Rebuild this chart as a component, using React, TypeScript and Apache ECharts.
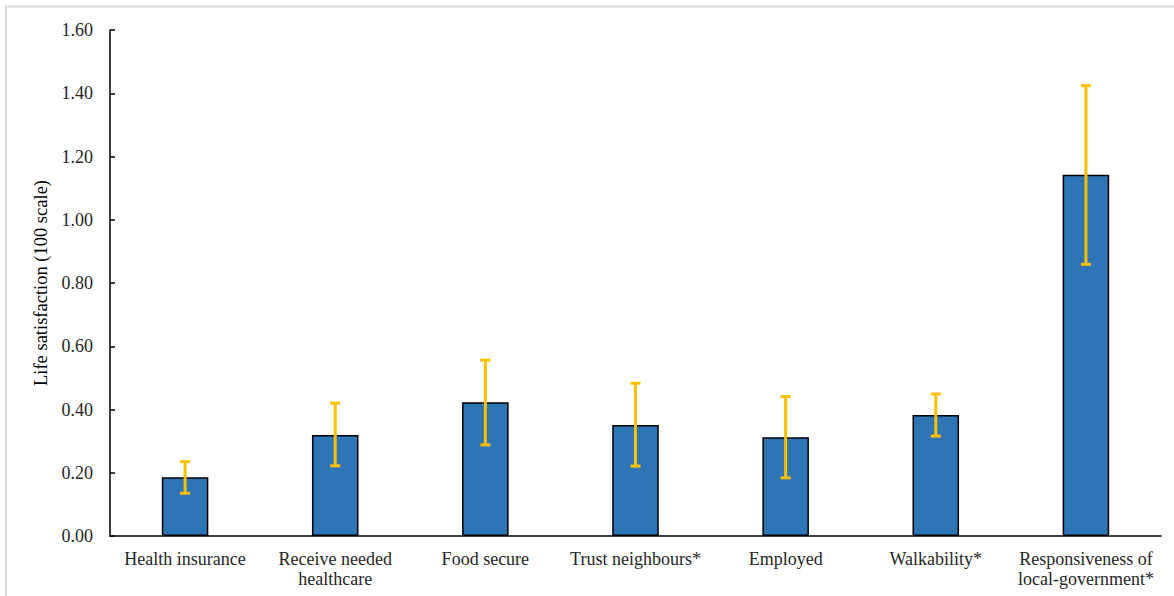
import React, { useEffect, useRef } from "react";
import * as echarts from "echarts";

const categories = [
  "Health insurance",
  "Receive needed\nhealthcare",
  "Food secure",
  "Trust neighbours*",
  "Employed",
  "Walkability*",
  "Responsiveness of\nlocal-government*",
];
const values = [0.186, 0.319, 0.423, 0.351, 0.312, 0.383, 1.142];
const errLow = [0.135, 0.222, 0.288, 0.221, 0.184, 0.316, 0.859];
const errHigh = [0.235, 0.42, 0.556, 0.483, 0.441, 0.449, 1.424];

const yMin = 0;
const yMax = 1.6;
const yStep = 0.2;

export default function App() {
  const ref = useRef<HTMLDivElement>(null);
  useEffect(() => {
    document.body.style.margin = "0";
    const chart = echarts.init(ref.current!, null, { renderer: "svg" });
    const font = "'Liberation Serif', 'Times New Roman', serif";
    chart.setOption({
      animation: false,
      backgroundColor: "#ffffff",
      textStyle: { fontFamily: font },
      graphic: [
        {
          type: "rect",
          shape: { x: 6, y: 6.5, width: 1200, height: 620 },
          style: { fill: "none", stroke: "#d9d9d9", lineWidth: 2 },
          silent: true,
          z: -10,
        },
      ],
      grid: { left: 110, right: 13, top: 30, bottom: 60 },
      xAxis: {
        type: "category",
        data: categories,
        axisLine: { lineStyle: { color: "#000", width: 1.5 } },
        axisTick: { show: false },
        axisLabel: {
          color: "#262626",
          fontSize: 18,
          fontFamily: font,
          margin: 13,
          lineHeight: 20,
          interval: 0,
        },
      },
      yAxis: {
        type: "value",
        min: yMin,
        max: yMax,
        interval: yStep,
        name: "Life satisfaction (100 scale)",
        nameLocation: "middle",
        nameGap: 54,
        nameTextStyle: { color: "#000", fontSize: 18.5, fontFamily: font },
        splitLine: { show: false },
        axisLine: { show: true, lineStyle: { color: "#000", width: 1.5 } },
        axisTick: { show: true, inside: true, length: 5, lineStyle: { color: "#000", width: 1.5 } },
        axisLabel: {
          color: "#262626",
          fontSize: 18,
          fontFamily: font,
          margin: 17,
          formatter: (v: number) => v.toFixed(2),
        },
      },
      series: [
        {
          type: "bar",
          data: values,
          barWidth: "31%",
          itemStyle: { color: "#2E75B6", borderColor: "#000", borderWidth: 1.5 },
        },
        {
          type: "custom",
          data: categories.map((_, i) => [i, errLow[i], errHigh[i]]),
          z: 10,
          renderItem: (params: any, api: any) => {
            const x = api.value(0);
            const lo = api.coord([x, api.value(1)]);
            const hi = api.coord([x, api.value(2)]);
            const cap = 5;
            const style = { stroke: "#FFC000", lineWidth: 3 };
            return {
              type: "group",
              children: [
                { type: "line", shape: { x1: hi[0], y1: hi[1], x2: lo[0], y2: lo[1] }, style },
                { type: "line", shape: { x1: hi[0] - cap, y1: hi[1], x2: hi[0] + cap, y2: hi[1] }, style },
                { type: "line", shape: { x1: lo[0] - cap, y1: lo[1], x2: lo[0] + cap, y2: lo[1] }, style },
              ],
            };
          },
        },
      ],
    });
    return () => chart.dispose();
  }, []);
  return <div ref={ref} style={{ width: 1174, height: 596 }} />;
}
